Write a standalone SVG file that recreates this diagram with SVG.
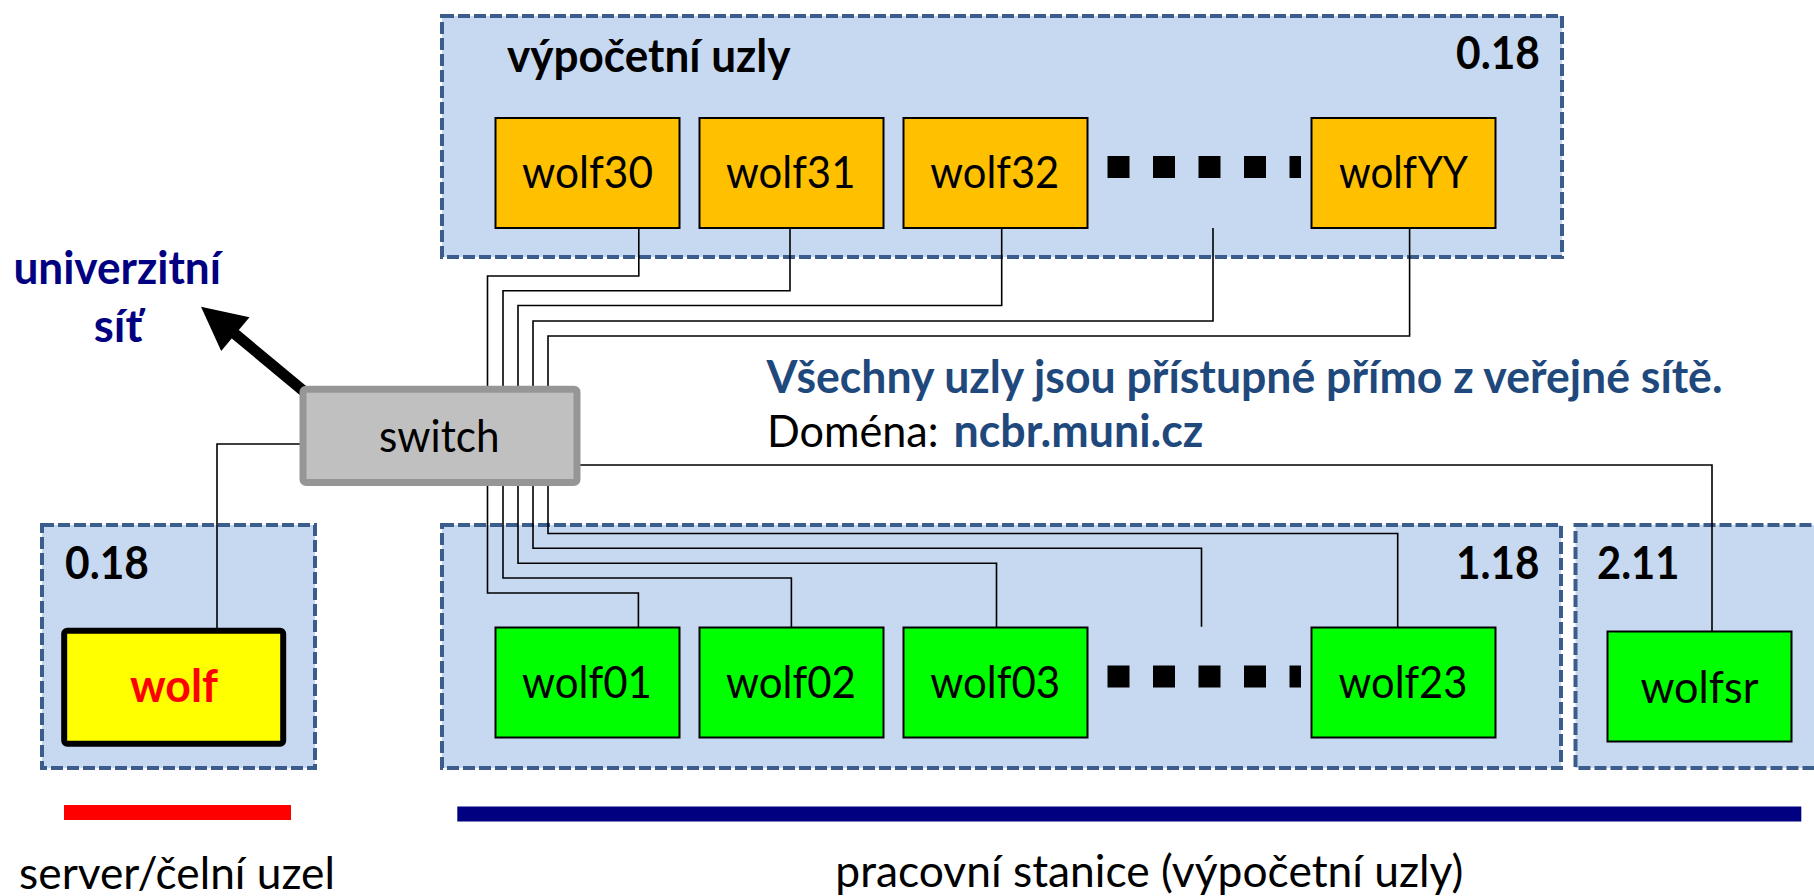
<svg xmlns="http://www.w3.org/2000/svg" width="1814" height="896" viewBox="0 0 1814 896">
<style>
.grp{fill:#c6d9f0;stroke:#3b5d8c;stroke-width:4;stroke-dasharray:12 4}
.t{font-family:Lato,"Liberation Sans","DejaVu Sans",sans-serif;font-size:45px}
.b{font-weight:bold}
.orange{fill:#ffc000;stroke:#000;stroke-width:2}
.green{fill:#00ff00;stroke:#000;stroke-width:2}
.wire{fill:none;stroke:#000;stroke-width:1.6}
.dots{stroke:#000;stroke-width:22;stroke-dasharray:22 23.5}
</style>
<rect width="1814" height="896" fill="#fff"/>
<!-- group backgrounds -->
<g id="grp-vypocetni">
<rect class="grp" x="442" y="16" width="1120" height="241"/>
<text class="t b" x="507" y="71.5" textLength="283.5" lengthAdjust="spacingAndGlyphs">výpočetní uzly</text>
<text class="t b" x="1456" y="69" textLength="84" lengthAdjust="spacingAndGlyphs">0.18</text>
</g>
<g id="grp-server">
<rect class="grp" x="42" y="525" width="273" height="243"/>
<text class="t b" x="65" y="579.3" textLength="84" lengthAdjust="spacingAndGlyphs">0.18</text>
</g>
<g id="grp-118">
<rect class="grp" x="442" y="525" width="1119" height="243"/>
<text class="t b" x="1456" y="579" textLength="83.5" lengthAdjust="spacingAndGlyphs">1.18</text>
</g>
<g id="grp-211">
<rect class="grp" x="1575.5" y="525" width="270" height="243"/>
<text class="t b" x="1597" y="579" textLength="82.5" lengthAdjust="spacingAndGlyphs">2.11</text>
</g>
<!-- connectors -->
<g id="connectors">
<path class="wire" d="M638.8 228V276H487.5V387"/>
<path class="wire" d="M790 228V290.7H503V387"/>
<path class="wire" d="M1001.7 228V305.5H518V387"/>
<path class="wire" d="M1213 228V321H533V387"/>
<path class="wire" d="M1409.6 228V336H548V387"/>
<path class="wire" d="M487.5 485V593H638.4V627"/>
<path class="wire" d="M503 485V578H791.4V627"/>
<path class="wire" d="M518 485V563.3H996.5V627"/>
<path class="wire" d="M533 485V548.3H1201.5V626.7"/>
<path class="wire" d="M548 485V533.5H1397.7V627"/>
<path class="wire" d="M578 465H1712V631"/>
<path class="wire" d="M302 444H217V631"/>
<g id="uplink">
<line x1="312" y1="398" x2="232" y2="331.5" stroke="#000" stroke-width="11"/>
<polygon points="201,306.7 249.5,317.3 221.2,351" fill="#000"/>
</g>
</g>
<!-- ellipses -->
<g id="ellipsis-top"><line class="dots" x1="1107.5" y1="167" x2="1301" y2="167"/></g>
<g id="ellipsis-bottom"><line class="dots" x1="1107.5" y1="676.5" x2="1301" y2="676.5"/></g>
<!-- nodes -->
<g id="switch">
<rect x="303" y="389.2" width="274" height="93.3" rx="3" fill="#c0c0c0" stroke="#969696" stroke-width="7"/>
<text class="t" x="379" y="451.7" textLength="120.5" lengthAdjust="spacingAndGlyphs">switch</text>
</g>
<g id="wolf30"><rect class="orange" x="495.5" y="118" width="184" height="110"/><text class="t" x="522" y="188.3" textLength="131" lengthAdjust="spacingAndGlyphs">wolf30</text></g>
<g id="wolf31"><rect class="orange" x="699.5" y="118" width="184" height="110"/><text class="t" x="726" y="188.3" textLength="129.4" lengthAdjust="spacingAndGlyphs">wolf31</text></g>
<g id="wolf32"><rect class="orange" x="903.5" y="118" width="184" height="110"/><text class="t" x="930.3" y="188.3" textLength="129" lengthAdjust="spacingAndGlyphs">wolf32</text></g>
<g id="wolfYY"><rect class="orange" x="1311.5" y="118" width="184" height="110"/><text class="t" x="1339" y="188.3" textLength="129" lengthAdjust="spacingAndGlyphs">wolfYY</text></g>
<g id="wolf01"><rect class="green" x="495.5" y="627.5" width="184" height="110"/><text class="t" x="522" y="697.7" textLength="130" lengthAdjust="spacingAndGlyphs">wolf01</text></g>
<g id="wolf02"><rect class="green" x="699.5" y="627.5" width="184" height="110"/><text class="t" x="726" y="697.7" textLength="130" lengthAdjust="spacingAndGlyphs">wolf02</text></g>
<g id="wolf03"><rect class="green" x="903.5" y="627.5" width="184" height="110"/><text class="t" x="930.2" y="697.7" textLength="130" lengthAdjust="spacingAndGlyphs">wolf03</text></g>
<g id="wolf23"><rect class="green" x="1311.5" y="627.5" width="184" height="110"/><text class="t" x="1338.5" y="697.7" textLength="129" lengthAdjust="spacingAndGlyphs">wolf23</text></g>
<g id="wolfsr"><rect class="green" x="1607.5" y="631.5" width="184" height="110"/><text class="t" x="1640.4" y="702.5" textLength="118" lengthAdjust="spacingAndGlyphs">wolfsr</text></g>
<g id="wolf"><rect x="64.2" y="630.7" width="219" height="113" rx="3" fill="#ffff00" stroke="#000" stroke-width="6"/><text class="t b" x="130" y="701.7" fill="#ff0000" textLength="88" lengthAdjust="spacingAndGlyphs">wolf</text></g>
<!-- labels -->
<g id="univerzitni-sit" fill="#000080">
<text class="t b" x="13.4" y="284.3" textLength="207.6" lengthAdjust="spacingAndGlyphs">univerzitní</text>
<text class="t b" x="93.8" y="341.7" textLength="48.6" lengthAdjust="spacingAndGlyphs">síť</text>
</g>
<g id="info">
<text class="t b" x="766.5" y="393" fill="#1f497d" textLength="956" lengthAdjust="spacingAndGlyphs">Všechny uzly jsou přístupné přímo z veřejné sítě.</text>
<text class="t" x="767" y="447.3" textLength="171.5" lengthAdjust="spacingAndGlyphs">Doména:</text>
<text class="t b" x="953.5" y="447.3" fill="#1f497d" textLength="249.8" lengthAdjust="spacingAndGlyphs">ncbr.muni.cz</text>
</g>
<g id="legend">
<rect x="64" y="805" width="227" height="15" fill="#ff0000"/>
<rect x="457.3" y="806.5" width="1344" height="15" fill="#000080"/>
<text class="t" x="19.1" y="888.5" textLength="315.8" lengthAdjust="spacingAndGlyphs">server/čelní uzel</text>
<text class="t" x="835.3" y="887" textLength="628" lengthAdjust="spacingAndGlyphs">pracovní stanice (výpočetní uzly)</text>
</g>
</svg>
